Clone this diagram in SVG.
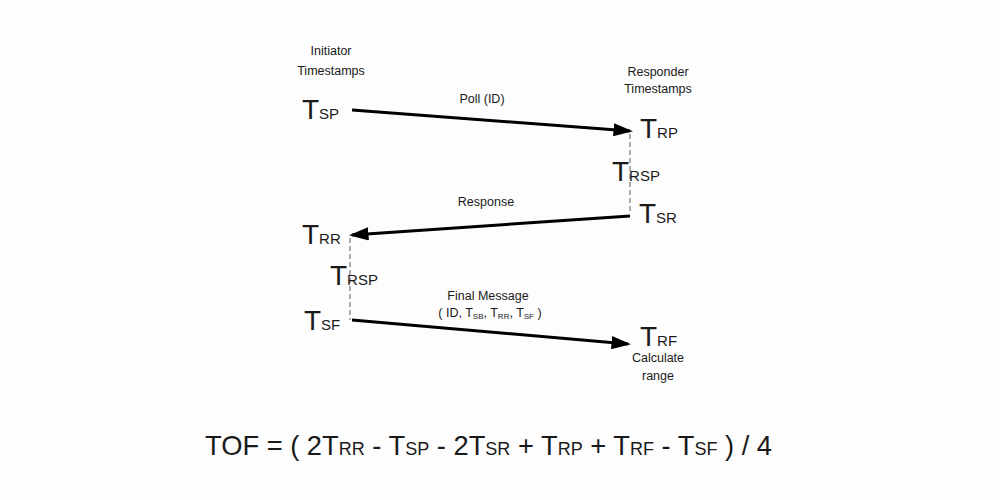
<svg xmlns="http://www.w3.org/2000/svg" width="1000" height="500" viewBox="0 0 1000 500">
<style>
text{font-family:"Liberation Sans",Arial,sans-serif;fill:#1a1a1a}
.lbl{font-size:12.5px;text-anchor:middle}
.T{font-size:28px}
.sub{font-size:15px}
.arr{stroke:#000;stroke-width:3;fill:none}
.dash{stroke:#777;stroke-width:1.2;stroke-dasharray:5,3;fill:none}
.f{font-size:27.3px}
.fs{font-size:18px}
</style>
<defs>
<marker id="ah" markerWidth="6.5" markerHeight="4.4" refX="5.5" refY="2.2" orient="auto" markerUnits="strokeWidth">
<path d="M0,0 L6.5,2.2 L0,4.4 Z" fill="#000"/>
</marker>
</defs>
<rect width="1000" height="500" fill="#fdfdfd"/>
<g id="headers">
<text class="lbl" x="331" y="55">Initiator</text>
<text class="lbl" x="331" y="75">Timestamps</text>
<text class="lbl" x="658" y="76">Responder</text>
<text class="lbl" x="658" y="93">Timestamps</text>
</g>
<g id="connectors">
<line class="arr" x1="352" y1="110" x2="630" y2="131" marker-end="url(#ah)"/>
<line class="arr" x1="630" y1="216" x2="352" y2="235" marker-end="url(#ah)"/>
<line class="arr" x1="352" y1="320" x2="628" y2="344" marker-end="url(#ah)"/>
<line class="dash" x1="630" y1="134" x2="630" y2="214"/>
<line class="dash" x1="350" y1="238" x2="350" y2="320"/>
</g>
<g id="labels">
<text class="lbl" x="482" y="103">Poll (ID)</text>
<text class="lbl" x="486" y="206">Response</text>
<text class="lbl" x="488" y="300">Final Message</text>
<text class="lbl" x="490" y="317">( ID, T<tspan font-size="8" dy="2">SB</tspan><tspan dy="-2">, T</tspan><tspan font-size="8" dy="2">RR</tspan><tspan dy="-2">, T</tspan><tspan font-size="8" dy="2">SF</tspan><tspan dy="-2"> )</tspan></text>
</g>
<g id="TSP"><text class="T" x="302" y="119">T<tspan class="sub">SP</tspan></text></g>
<g id="TRP"><text class="T" x="640" y="138">T<tspan class="sub">RP</tspan></text></g>
<g id="TRSP1"><text class="T" x="612" y="181">T<tspan class="sub">RSP</tspan></text></g>
<g id="TSR"><text class="T" x="639" y="223">T<tspan class="sub">SR</tspan></text></g>
<g id="TRR"><text class="T" x="302" y="244">T<tspan class="sub">RR</tspan></text></g>
<g id="TRSP2"><text class="T" x="330" y="285">T<tspan class="sub">RSP</tspan></text></g>
<g id="TSF"><text class="T" x="304" y="330">T<tspan class="sub">SF</tspan></text></g>
<g id="TRF">
<text class="T" x="640" y="346">T<tspan class="sub">RF</tspan></text>
<text class="lbl" x="658" y="362">Calculate</text>
<text class="lbl" x="658" y="380">range</text>
</g>
<g id="formula">
<text class="f" x="205" y="455">TOF = ( 2T<tspan class="fs">RR</tspan> - T<tspan class="fs">SP</tspan> - 2T<tspan class="fs">SR</tspan> + T<tspan class="fs">RP</tspan> + T<tspan class="fs">RF</tspan> - T<tspan class="fs">SF</tspan> ) / 4</text>
</g>
</svg>
